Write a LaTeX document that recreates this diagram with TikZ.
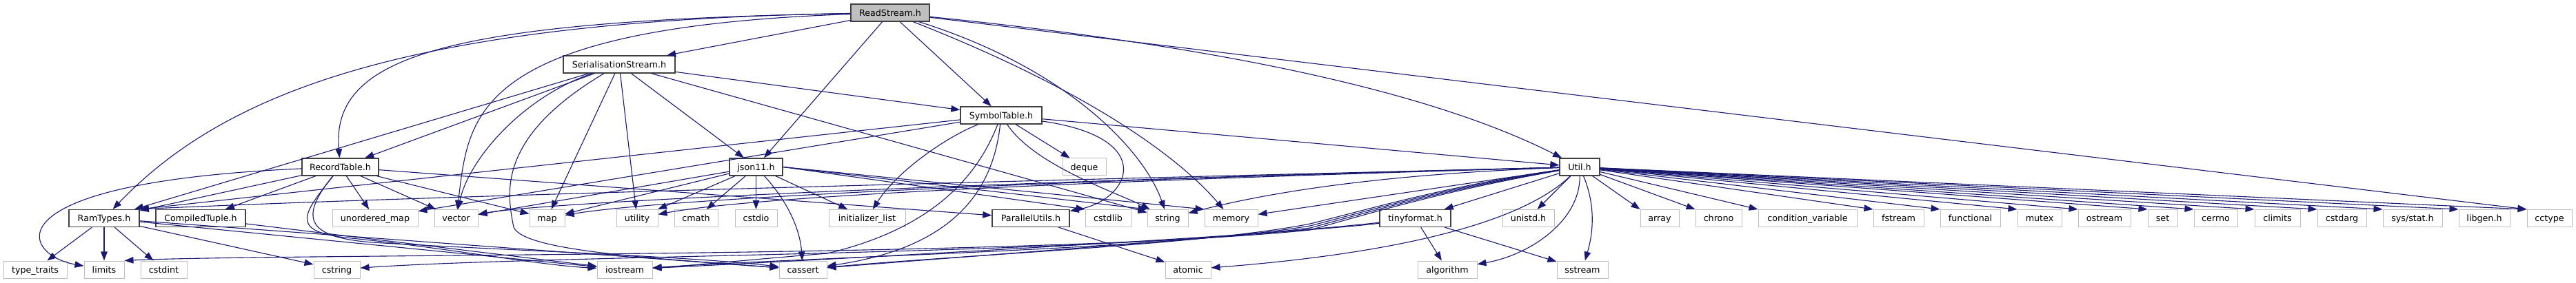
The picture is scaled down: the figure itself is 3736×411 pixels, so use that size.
\documentclass[tikz,border=0pt]{standalone}
\usepackage{fontspec}
\usetikzlibrary{arrows.meta}
\newfontfamily\dejavu{DejaVu Sans}
\definecolor{edgec}{HTML}{191970}
\definecolor{dkgray}{HTML}{404040}
\definecolor{ltgray}{HTML}{BFBFBF}
\definecolor{rootgray}{HTML}{BFBFBF}
\tikzset{
  box/.style={draw, line width=1pt, minimum height=25pt, inner sep=0pt, text height=9.3pt, text depth=0pt, font={\dejavu\fontsize{12.7}{15}\selectfont}},
  hdr/.style={box, draw=dkgray, line width=1.4pt, fill=white},
  sysh/.style={box, draw=ltgray, fill=white},
  root/.style={box, draw=dkgray, line width=1.4pt, fill=rootgray},
  dep/.style={draw=edgec, line width=1.1pt, -{Triangle[length=13pt,width=9.5pt]}}
}
\begin{document}
\begin{tikzpicture}[x=1pt,y=-1pt]
\fill[white] (0,0) rectangle (3736,411);
\useasboundingbox (0,0) rectangle (3736,411);
% row 1-3
\node[root, minimum width=114pt] (RS) at (1291,18.5) {ReadStream.h};
\node[hdr, minimum width=162pt] (SS) at (898,93.5) {SerialisationStream.h};
\node[hdr, minimum width=118pt] (ST) at (1452,167.5) {SymbolTable.h};
% row 4
\node[hdr, minimum width=111pt] (RT) at (493.5,242.5) {RecordTable.h};
\node[hdr, minimum width=77pt] (JS) at (1096.5,242.5) {json11.h};
\node[hdr, minimum width=58pt] (UT) at (2291,242.5) {Util.h};
\node[sysh, minimum width=63pt] (DQ) at (1572.5,242.5) {deque};
% row 5
\node[hdr, minimum width=102pt] (RAM) at (151,317) {RamTypes.h};
\node[hdr, minimum width=130pt] (CT) at (291,317) {CompiledTuple.h};
\node[sysh, minimum width=124pt] (UM) at (544,317) {unordered\_map};
\node[sysh, minimum width=63pt] (VEC) at (661.5,317) {vector};
\node[sysh, minimum width=51pt] (MAP) at (793.5,317) {map};
\node[sysh, minimum width=60pt] (UTY) at (924,317) {utility};
\node[sysh, minimum width=63pt] (CMA) at (1009.5,317) {cmath};
\node[sysh, minimum width=61pt] (CSD) at (1096.5,317) {cstdio};
\node[sysh, minimum width=111pt] (INL) at (1257.5,317) {initializer\_list};
\node[hdr, minimum width=112pt] (PU) at (1495,317) {ParallelUtils.h};
\node[sysh, minimum width=66pt] (CSL) at (1607,317) {cstdlib};
\node[sysh, minimum width=59pt] (STR) at (1693.5,317) {string};
\node[sysh, minimum width=77pt] (MEM) at (1785.5,317) {memory};
\node[hdr, minimum width=103pt] (TF) at (2052.5,317) {tinyformat.h};
\node[sysh, minimum width=75pt] (UNI) at (2216.5,317) {unistd.h};
\node[sysh, minimum width=56pt] (ARR) at (2407,317) {array};
\node[sysh, minimum width=67pt] (CHR) at (2492.5,317) {chrono};
\node[sysh, minimum width=143pt] (CV) at (2621.5,317) {condition\_variable};
\node[sysh, minimum width=73pt] (FST) at (2753.5,317) {fstream};
\node[sysh, minimum width=87pt] (FUN) at (2857.5,317) {functional};
\node[sysh, minimum width=64pt] (MUT) at (2958,317) {mutex};
\node[sysh, minimum width=76pt] (OST) at (3052,317) {ostream};
\node[sysh, minimum width=43pt] (SET) at (3136.5,317) {set};
\node[sysh, minimum width=63pt] (CER) at (3213.5,317) {cerrno};
\node[sysh, minimum width=66pt] (CLI) at (3303,317) {climits};
\node[sysh, minimum width=71pt] (CSA) at (3396.5,317) {cstdarg};
\node[sysh, minimum width=86pt] (SYS) at (3499,317) {sys/stat.h};
\node[sysh, minimum width=74pt] (LIB) at (3603,317) {libgen.h};
\node[sysh, minimum width=65pt] (CCT) at (3697.5,317) {cctype};
% row 6
\node[sysh, minimum width=92pt] (TT) at (51,391.5) {type\_traits};
\node[sysh, minimum width=58pt] (LIM) at (151,391.5) {limits};
\node[sysh, minimum width=67pt] (CSI) at (237.5,391.5) {cstdint};
\node[sysh, minimum width=67pt] (CSTR) at (488.5,391.5) {cstring};
\node[sysh, minimum width=80pt] (IOS) at (906,391.5) {iostream};
\node[sysh, minimum width=69pt] (CAS) at (1164.5,391.5) {cassert};
\node[sysh, minimum width=66pt] (ATO) at (1723,391.5) {atomic};
\node[sysh, minimum width=86pt] (ALG) at (2099,391.5) {algorithm};
\node[sysh, minimum width=74pt] (SST) at (2295,391.5) {sstream};

% ReadStream.h
\draw[dep] (RS) .. controls (600,30) and (330,130) .. (RAM);
\draw[dep] (RS) .. controls (650,30) and (480,80) .. (RT);
\draw[dep] (RS) -- (SS);
\draw[dep] (RS) .. controls (680,40) and (680,170) .. (VEC);
\draw[dep] (RS) -- (JS);
\draw[dep] (RS) -- (ST);
\draw[dep] (RS) .. controls (1550,100) and (1660,220) .. (STR);
\draw[dep] (RS) .. controls (1600,140) and (1720,240) .. (MEM);
\draw[dep] (RS) .. controls (1700,60) and (2050,120) .. (UT);
\draw[dep] (RS) -- (CCT.north west);

% SerialisationStream.h
\draw[dep] (SS) -- (RAM);
\draw[dep] (SS) -- (RT);
\draw[dep] (SS) .. controls (760,140) and (680,230) .. (VEC);
\draw[dep] (SS) -- (MAP);
\draw[dep] (SS) -- (UTY);
\draw[dep] (SS) -- (JS);
\draw[dep] (SS) -- (ST);
\draw[dep] (SS) -- (STR);
\draw[dep] (SS) .. controls (720,200) and (735,280) .. (745,330) .. controls (760,365) and (950,375) .. (CAS);

% RecordTable.h
\draw[dep] (RT) -- (RAM);
\draw[dep] (RT) -- (CT);
\draw[dep] (RT) .. controls (-20,265) and (30,370) .. (LIM);
\draw[dep] (RT) -- (UM);
\draw[dep] (RT) -- (VEC);
\draw[dep] (RT) -- (MAP);
\draw[dep] (RT) -- (PU);
\draw[dep] (RT) .. controls (430,320) and (450,345) .. (540,352) .. controls (700,362) and (1000,372) .. (CAS);
\draw[dep] (RT) .. controls (440,310) and (420,335) .. (500,345) .. controls (650,360) and (780,385) .. (IOS);

% RamTypes.h
\draw[dep] (RAM) -- (TT);
\draw[dep] (RAM) -- (LIM);
\draw[dep] (RAM) -- (CSI);
\draw[dep] (RAM) -- (CSTR);
\draw[dep] (RAM) -- (IOS);
\draw[dep] (RAM) -- (CAS);

% CompiledTuple.h
\draw[dep] (CT) -- (IOS);

% json11.h
\draw[dep] (JS) -- (VEC);
\draw[dep] (JS) -- (MAP);
\draw[dep] (JS) -- (UTY);
\draw[dep] (JS) -- (CMA);
\draw[dep] (JS) -- (CSD);
\draw[dep] (JS) -- (INL);
\draw[dep] (JS) .. controls (1140,290) and (1160,330) .. (CAS);
\draw[dep] (JS.east) -- (CSL.north west);
\draw[dep] (JS.east) -- (STR.north west);
\draw[dep] (JS.east) -- (MEM.north west);

% SymbolTable.h
\draw[dep] (ST) -- (RAM.north east);
\draw[dep] (ST) -- (UM);
\draw[dep] (ST) .. controls (1370,200) and (1300,250) .. (INL);
\draw[dep] (ST) .. controls (1420,250) and (1360,330) .. (1200,368) .. controls (1100,376) and (1000,386) .. (IOS);
\draw[dep] (ST) .. controls (1440,280) and (1380,360) .. (CAS);
\draw[dep] (ST) .. controls (1500,240) and (1620,280) .. (STR);
\draw[dep] (ST) -- (DQ);
\draw[dep] (ST) .. controls (1680,200) and (1640,290) .. (PU);
\draw[dep] (ST) -- (UT);

% ParallelUtils.h
\draw[dep] (PU) -- (ATO);

% Util.h
\draw[dep] (UT) .. controls (1500,262) and (600,285) .. (RAM.north east);
\draw[dep] (UT) .. controls (1500,262) and (800,292) .. (VEC);
\draw[dep] (UT) .. controls (1500,262) and (950,290) .. (MAP);
\draw[dep] (UT) .. controls (1600,262) and (1100,284) .. (UTY);
\draw[dep] (UT) -- (MEM);
\draw[dep] (UT) .. controls (1950,255) and (1800,290) .. (STR);
\draw[dep] (UT) .. controls (2100,270) and (2000,300) .. (1900,325) .. controls (1750,355) and (1400,370) .. (CAS);
\draw[dep] (UT) .. controls (2100,272) and (2000,302) .. (1900,328) .. controls (1700,362) and (1200,372) .. (IOS);
\draw[dep] (UT) .. controls (2100,274) and (2000,304) .. (1900,331) .. controls (1600,370) and (800,370) .. (CSTR);
\draw[dep] (UT) .. controls (2100,276) and (2000,306) .. (1900,334) .. controls (1500,375) and (400,368) .. (LIM.north east);
\draw[dep] (UT) .. controls (2200,330) and (2000,370) .. (ATO);
\draw[dep] (UT) -- (TF);
\draw[dep] (UT) -- (UNI);
\draw[dep] (UT) .. controls (2292,320) and (2220,370) .. (ALG);
\draw[dep] (UT) .. controls (2315,300) and (2310,340) .. (SST);
\draw[dep] (UT) -- (ARR.north west);
\draw[dep] (UT) -- (CHR.north west);
\draw[dep] (UT) -- (CV.north west);
\draw[dep] (UT) -- (FST.north west);
\draw[dep] (UT) -- (FUN.north west);
\draw[dep] (UT) -- (MUT.north west);
\draw[dep] (UT) -- (OST.north west);
\draw[dep] (UT) -- (SET.north west);
\draw[dep] (UT) -- (CER.north west);
\draw[dep] (UT) -- (CLI.north west);
\draw[dep] (UT) -- (CSA.north west);
\draw[dep] (UT) -- (SYS.north west);
\draw[dep] (UT) -- (LIB.north west);
\draw[dep] (UT) -- (CCT.north west);

% tinyformat.h
\draw[dep] (TF) -- (ALG);
\draw[dep] (TF) -- (SST);
\draw[dep] (TF) .. controls (1900,335) and (1500,365) .. (CAS);
\draw[dep] (TF) .. controls (1900,338) and (1300,372) .. (IOS);
\end{tikzpicture}
\end{document}
